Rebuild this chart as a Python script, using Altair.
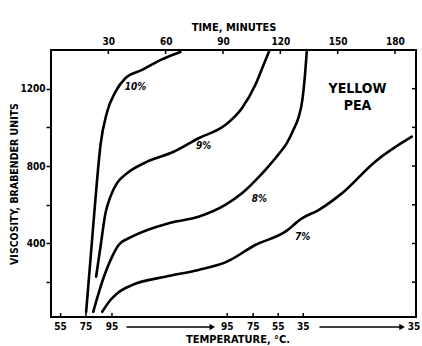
import altair as alt
import pandas as pd

# ---- data ----
# time in minutes, viscosity in Brabender units
t10 = [18.4, 21.2, 24.1, 25.9, 29.4, 33.7, 38.9, 47.7, 57.2, 67.7]
v10 = [47, 383, 728, 909, 1081, 1184, 1254, 1297, 1348, 1390]

t9 = [23.6, 25.9, 28.5, 31.1, 34.6, 39.8, 50.3, 64.2, 77.2, 91.2, 99.9, 106.9, 111.2, 114.2]
v9 = [228, 383, 556, 642, 713, 763, 823, 874, 944, 1012, 1099, 1219, 1322, 1395]

t8 = [22.1, 27.1, 32.0, 35.4, 42.4, 62.5, 77.2, 91.2, 99.9, 106.9, 113.0, 119.0, 123.5, 127.0, 129.5, 131.5, 132.8, 133.9]
v8 = [47, 211, 332, 392, 435, 507, 538, 599, 659, 725, 790, 860, 920, 990, 1050, 1140, 1260, 1400]

t7 = [26.8, 31.1, 34.6, 42.4, 59.8, 77.2, 92.1, 106.9, 122.6, 131.3, 140.0, 152.2, 169.6, 188.8]
v7 = [47, 108, 142, 185, 228, 263, 306, 392, 461, 530, 573, 659, 823, 952]

series_names = ["10%", "9%", "8%", "7%"]
label_t = [44.2, 79.9, 109.0, 131.7]
label_v = [1209, 904, 630, 435]

time_ticks = [30, 60, 90, 120, 150, 180]
visc_ticks = [200, 400, 600, 800, 1000, 1200]

temp_tick_t = [5.0, 18.3, 31.9, 92.2, 105.8, 118.9, 132.0]
temp_label_t = [5.0, 18.3, 31.9, 92.2, 105.8, 118.9, 132.0, 189.9]
temp_labels = ["55", "75", "95", "95", "75", "55", "35", "35"]

arrow_start = [39.5, 140.5]
arrow_end = [84.4, 183.7]

tag_t = [160.4, 160.4]
tag_v = [1200, 1108]
tag_text = ["YELLOW", "PEA"]

X_DOMAIN = [0, 191]
Y_DOMAIN = [20, 1400]
W, H = 365, 267
FONT = "DejaVu Sans Condensed"

rows = []
for name, ts, vs in zip(series_names, [t10, t9, t8, t7], [v10, v9, v8, v7]):
    for i, (t, v) in enumerate(zip(ts, vs)):
        rows.append({"series": name, "t": t, "v": v, "i": i})
curves = pd.DataFrame(rows)

xs = alt.Scale(domain=X_DOMAIN, nice=False, zero=False)
ys = alt.Scale(domain=Y_DOMAIN, nice=False, zero=False)

lines = alt.Chart(curves).mark_line(
    color="black", strokeWidth=2.6, interpolate="monotone", strokeCap="round"
).encode(
    x=alt.X("t:Q", scale=xs, axis=alt.Axis(
        orient="top", values=time_ticks, title="TIME, MINUTES", ticks=False,
        domain=False, grid=False, labelFont=FONT, labelFontWeight="bold",
        labelFontSize=10, labelColor="black", labelPadding=4,
        titleFont=FONT, titleFontWeight="bold", titleFontSize=11,
        titleColor="black", titlePadding=4)),
    y=alt.Y("v:Q", scale=ys, axis=alt.Axis(
        orient="left", values=visc_ticks,
        labelExpr="datum.value % 400 == 0 ? datum.label : ''",
        format="d", tickSize=5, tickWidth=1.5, tickColor="black",
        domain=False, grid=False, labelFont=FONT, labelFontWeight="bold",
        labelFontSize=10, labelColor="black", labelPadding=1,
        title="VISCOSITY, BRABENDER UNITS", titleFont=FONT,
        titleFontWeight="bold", titleFontSize=10.5, titleColor="black",
        titlePadding=0)),
    detail="series:N",
    order="i:Q",
)

labels_df = pd.DataFrame({"t": label_t, "v": label_v, "txt": series_names})
curve_labels = alt.Chart(labels_df).mark_text(
    font=FONT, fontSize=10, fontWeight="bold", fontStyle="italic", color="black"
).encode(x=alt.X("t:Q", scale=xs), y=alt.Y("v:Q", scale=ys), text="txt:N")

tag_df = pd.DataFrame({"t": tag_t, "v": tag_v, "txt": tag_text})
tag = alt.Chart(tag_df).mark_text(
    font=FONT, fontSize=14, fontWeight="bold", color="black"
).encode(x=alt.X("t:Q", scale=xs), y=alt.Y("v:Q", scale=ys), text="txt:N")

top_ticks = alt.Chart(pd.DataFrame({"t": time_ticks})).mark_rule(
    color="black", strokeWidth=1.5
).encode(x=alt.X("t:Q", scale=xs), y=alt.value(0), y2=alt.value(4))

bot_ticks = alt.Chart(pd.DataFrame({"t": temp_tick_t})).mark_rule(
    color="black", strokeWidth=1.5
).encode(x=alt.X("t:Q", scale=xs), y=alt.value(H - 4), y2=alt.value(H))

right_ticks = alt.Chart(pd.DataFrame({"v": visc_ticks})).mark_rule(
    color="black", strokeWidth=1.5
).encode(y=alt.Y("v:Q", scale=ys), x=alt.value(W - 4), x2=alt.value(W))

temp_df = pd.DataFrame({"t": temp_label_t, "txt": temp_labels})
temp_text = alt.Chart(temp_df).mark_text(
    font=FONT, fontSize=10, fontWeight="bold", color="black", baseline="middle"
).encode(x=alt.X("t:Q", scale=xs), y=alt.value(H + 10), text="txt:N")

arrow_df = pd.DataFrame({"a": arrow_start, "b": arrow_end})
arrow_lines = alt.Chart(arrow_df).mark_rule(color="black", strokeWidth=1.5).encode(
    x=alt.X("a:Q", scale=xs), x2="b:Q", y=alt.value(H + 10)
)
arrow_heads = alt.Chart(arrow_df).mark_point(
    shape="triangle-right", filled=True, color="black", size=40, opacity=1
).encode(x=alt.X("b:Q", scale=xs), y=alt.value(H + 10))

bottom_title = alt.Chart(pd.DataFrame({"txt": ["TEMPERATURE, °C."]})).mark_text(
    font=FONT, fontSize=11, fontWeight="bold", color="black", baseline="middle"
).encode(x=alt.value(187), y=alt.value(H + 23), text="txt:N")

chart = alt.layer(
    lines, curve_labels, tag, top_ticks, bot_ticks, right_ticks,
    temp_text, arrow_lines, arrow_heads, bottom_title
).properties(
    width=W, height=H,
    autosize=alt.AutoSizeParams(type="none"),
    padding={"left": 51, "top": 50, "right": 6, "bottom": 29},
    background="white",
).configure_view(stroke="black", strokeWidth=2)

chart.save("out.html", embed_options={"renderer": "svg", "actions": False})
